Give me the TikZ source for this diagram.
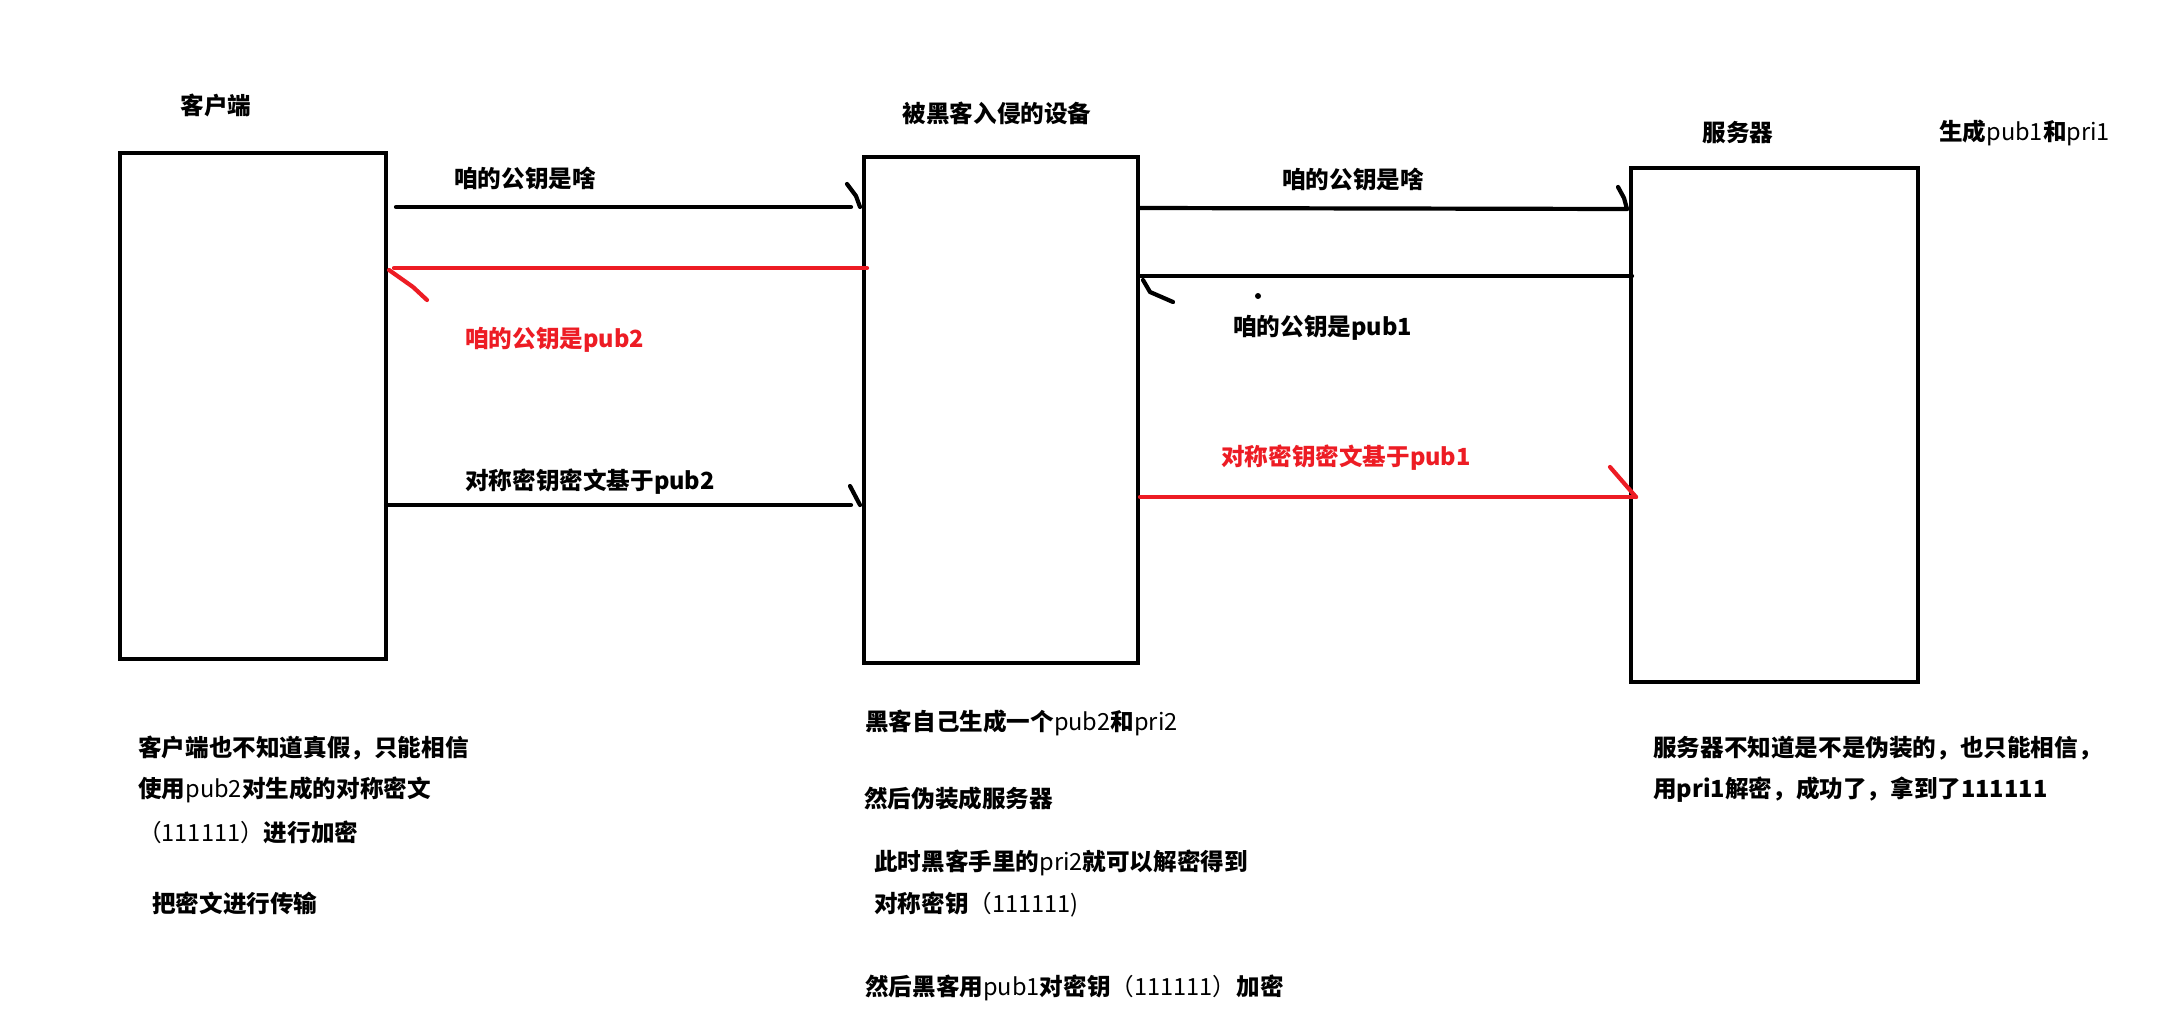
\documentclass[tikz,border=0pt]{standalone}
\usepackage{fontspec}
\setmainfont{Noto Sans CJK SC}
\definecolor{pred}{RGB}{237,28,36}
\begin{document}
\begin{tikzpicture}[x=1pt,y=-1pt,
  box/.style={draw, line width=4.5pt, inner sep=0pt, outer sep=0pt},
  lbl/.style={font=\fontsize{23.6}{28}\selectfont\bfseries, inner sep=0pt, anchor=west},
  ttl/.style={font=\fontsize{23.6}{28}\selectfont\bfseries, inner sep=0pt},
  conn/.style={line width=4.2pt, line cap=round, line join=round},
  redconn/.style={conn, draw=pred}]
\useasboundingbox[fill=white] (0,0) rectangle (2175,1025);

% boxes
\node[box, minimum width=266pt, minimum height=506pt] (client) at (253,406) {};
\node[box, minimum width=274pt, minimum height=506pt] (hacker) at (1001,410) {};
\node[box, minimum width=287pt, minimum height=514pt] (server) at (1774.5,425) {};

% titles
\node[ttl] (tclient) at (216,105) {客户端};
\node[ttl] (thacker) at (997,113) {被黑客入侵的设备};
\node[ttl] (tserver) at (1738,133) {服务器};
\node[lbl] (tgen) at (1939,133) {生成\textmd{pub1}和\textmd{pri1}};

% connector end points
\coordinate (a1s) at (396,207);
\coordinate (a1e) at (851,207);
\coordinate (a1t) at (847,184);
\coordinate (a2s) at (867,268);
\coordinate (a2e) at (394,268);
\coordinate (a3s) at (1140,208);
\coordinate (a3e) at (1627,209);
\coordinate (a3t) at (1618,187);
\coordinate (a4s) at (1632,276);
\coordinate (a4e) at (1140,276);
\coordinate (a5s) at (386,505);
\coordinate (a5e) at (851,505);
\coordinate (a5t) at (850,486);
\coordinate (a6s) at (1140,497);
\coordinate (a6e) at (1636,497);
\coordinate (a6t) at (1610,467);

% connectors
\draw[conn] (a1s) -- (a1e);
\draw[conn] (a1t) -- (856,196) -- (860,207);
\draw[redconn] (a2s) -- (a2e);
\draw[redconn] (389,270) -- (413,287) -- (427,300);
\draw[conn] (a3s) -- (a3e);
\draw[conn] (a3t) -- (1624,198) -- (a3e);
\draw[conn] (a4s) -- (a4e);
\draw[conn] (1143,280) -- (1150,292) -- (1173,302);
\draw[conn] (a5s) -- (a5e);
\draw[conn] (a5t) -- (860,505);
\draw[redconn] (a6s) -- (a6e);
\draw[redconn] (a6t) -- (a6e);
\fill (1258,296) circle (3pt);

% connector labels
\node[lbl] (l1) at (454,179) {咱的公钥是啥};
\node[lbl, text=pred] (l2) at (465,340) {咱的公钥是pub2};
\node[lbl] (l3) at (1282,180) {咱的公钥是啥};
\node[lbl] (l4) at (1233,328) {咱的公钥是pub1};
\node[lbl] (l5) at (465,482) {对称密钥密文基于pub2};
\node[lbl, text=pred] (l6) at (1221,458) {对称密钥密文基于pub1};

% notes under client
\node[lbl] (n1) at (138,748) {客户端也不知道真假，只能相信};
\node[lbl] (n2) at (138,790) {使用\textmd{pub2}对生成的对称密文};
\node[lbl] (n3) at (138,832) {\textmd{（111111）}进行加密};
\node[lbl] (n4) at (152,903) {把密文进行传输};

% notes under hacker
\node[lbl] (h1) at (865,723) {黑客自己生成一个\textmd{pub2}和\textmd{pri2}};
\node[lbl] (h2) at (864,798) {然后伪装成服务器};
\node[lbl] (h3) at (874,863) {此时黑客手里的\textmd{pri2}就可以解密得到};
\node[lbl] (h4) at (874,905) {对称密钥\textmd{（111111)}};
\node[lbl] (h5) at (865,988) {然后黑客用\textmd{pub1}对密钥\textmd{（111111）}加密};

% notes under server
\node[lbl] (s1) at (1653,748) {服务器不知道是不是伪装的，也只能相信，};
\node[lbl] (s2) at (1653,790) {用pri1解密，成功了，拿到了111111};
\end{tikzpicture}
\end{document}
